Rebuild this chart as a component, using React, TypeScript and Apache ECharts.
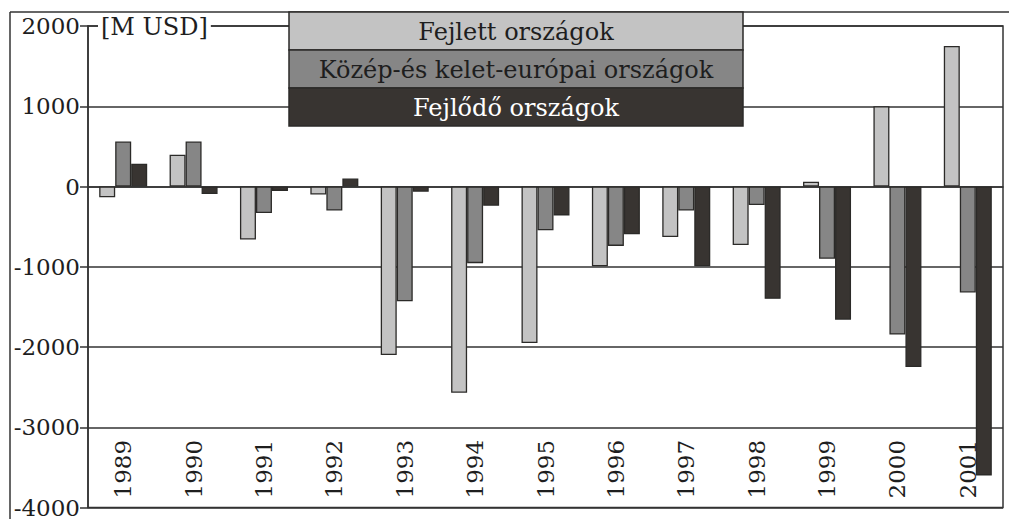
import React, { useEffect, useRef } from "react";
import * as echarts from "echarts";

const years = ["1989", "1990", "1991", "1992", "1993", "1994", "1995", "1996", "1997", "1998", "1999", "2000", "2001"];
const seriesNames = ["Fejlett országok", "Közép-és kelet-európai országok", "Fejlődő országok"];
const developed = [-135, 395, -660, -100, -2100, -2570, -1950, -995, -630, -730, 60, 1000, 1750];
const cee = [560, 560, -330, -300, -1430, -955, -545, -740, -300, -230, -900, -1845, -1320];
const developing = [285, -95, -55, 100, -65, -240, -360, -595, -995, -1400, -1660, -2250, -3600];
const yTicks = { min: -4000, max: 2000, interval: 1000 };
const unitLabel = "[M USD]";

const colors = ["#c3c3c3", "#868686", "#383431"];
const textColors = ["#1e1e1e", "#1e1e1e", "#ffffff"];
const border = "#2b2a28";
const FONT = "DejaVu Serif";

export default function App() {
  const ref = useRef<HTMLDivElement>(null);
  useEffect(() => {
    if (!ref.current) return;
    const chart = echarts.init(ref.current, null, { renderer: "svg" });
    const data = [developed, cee, developing];
    const legendX = 289, legendW = 454, legendTop = 12, rowH = 38;
    const legendEls: any[] = [];
    seriesNames.forEach((n, i) => {
      legendEls.push({
        type: "rect",
        shape: { x: legendX, y: legendTop + i * rowH, width: legendW, height: rowH },
        style: { fill: colors[i], stroke: border, lineWidth: 1.5 },
        z: 100,
      });
      legendEls.push({
        type: "text",
        x: legendX + legendW / 2,
        y: legendTop + i * rowH + rowH / 2 + 1,
        style: {
          text: n,
          fill: textColors[i],
          fontFamily: FONT,
          fontSize: 24,
          align: "center",
          verticalAlign: "middle",
        },
        z: 101,
      });
    });
    chart.setOption({
      animation: false,
      backgroundColor: "#ffffff",
      textStyle: { fontFamily: FONT },
      grid: {
        left: 88,
        right: 6,
        top: 26,
        bottom: 8,
        show: true,
        borderColor: "#333333",
        borderWidth: 1.5,
        backgroundColor: "transparent",
      },
      xAxis: {
        type: "category",
        data: years,
        axisLine: { show: true, lineStyle: { color: "#333333", width: 1.5 } },
        axisTick: { show: false },
        axisLabel: {
          inside: true,
          rotate: 90,
          margin: 9,
          color: "#1e1e1e",
          fontFamily: FONT,
          fontSize: 23,
        },
        splitLine: { show: false },
      },
      yAxis: {
        type: "value",
        min: yTicks.min,
        max: yTicks.max,
        interval: yTicks.interval,
        axisLine: { show: true, lineStyle: { color: "#333333", width: 1.5 } },
        axisTick: { show: true, length: 8, lineStyle: { color: "#333333", width: 1.5 } },
        axisLabel: {
          color: "#1e1e1e",
          fontFamily: FONT,
          fontSize: 23,
          margin: 8,
          formatter: (v: number) => String(v),
        },
        splitLine: { show: true, lineStyle: { color: "#333333", width: 1.6 } },
      },
      series: seriesNames.map((n, i) => ({
        type: "bar",
        name: n,
        data: data[i],
        barWidth: 16,
        barGap: "0%",
        itemStyle: { color: colors[i], borderColor: border, borderWidth: 1.3 },
      })),
      graphic: [
        { type: "line", shape: { x1: 10, y1: 12, x2: 1009, y2: 12 }, style: { stroke: "#333333", lineWidth: 1.5 }, z: 50 },
        { type: "line", shape: { x1: 10, y1: 12, x2: 10, y2: 519 }, style: { stroke: "#333333", lineWidth: 1.5 }, z: 50 },
        {
          type: "text",
          x: 98,
          y: 27,
          style: {
            text: unitLabel,
            fill: "#1e1e1e",
            fontFamily: FONT,
            fontSize: 24,
            verticalAlign: "middle",
            align: "left",
            backgroundColor: "#ffffff",
            padding: [0, 3, 0, 3],
          },
          z: 60,
        },
        ...legendEls,
      ],
    });
    return () => chart.dispose();
  }, []);
  return <div ref={ref} style={{ position: "fixed", left: 0, top: 0, width: 1009, height: 519 }} />;
}
